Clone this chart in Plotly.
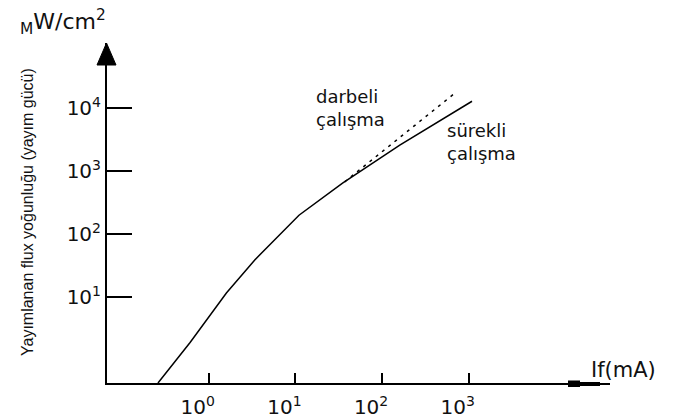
import plotly.graph_objects as go

# ---- data ----
if_continuous = [0.26, 0.61, 1.6, 3.4, 11, 35, 160, 1090]      # mA
p_continuous = [0.43, 1.9, 11.6, 39, 200, 650, 2600, 13000]     # mW/cm2
if_pulsed = [37, 710]
p_pulsed = [680, 18000]

x_tickvals = [1, 10, 100, 1000]
x_ticktext = ["10<sup>0</sup>", "10<sup>1</sup>", "10<sup>2</sup>", "10<sup>3</sup>"]
y_tickvals = [10, 100, 1000, 10000]
y_ticktext = ["10<sup>1</sup>", "10<sup>2</sup>", "10<sup>3</sup>", "10<sup>4</sup>"]

W, H = 686, 419
L, R, T, B = 107, 76, 43, 36
PW, PH = W - L - R, H - T - B


def px(x):
    return (x - L) / PW


def py(y):
    return (H - B - y) / PH


fig = go.Figure()
fig.add_trace(go.Scatter(x=if_continuous, y=p_continuous, mode="lines",
                         line=dict(color="black", width=1.5), showlegend=False,
                         hoverinfo="skip", cliponaxis=True))
fig.add_trace(go.Scatter(x=if_pulsed, y=p_pulsed, mode="lines",
                         line=dict(color="black", width=1.5, dash="3px,5px"),
                         showlegend=False, hoverinfo="skip"))

font_t = dict(family="DejaVu Sans", size=20, color="#111")

fig.update_layout(
    width=W, height=H,
    margin=dict(l=L, r=R, t=T, b=B, autoexpand=False),
    paper_bgcolor="white", plot_bgcolor="white",
    showlegend=False,
    xaxis=dict(type="log", range=[-1.173, 4.629], showgrid=False, zeroline=False,
               automargin=False,
               showline=True, linecolor="black", linewidth=2,
               ticks="inside", ticklen=10, tickwidth=2, tickcolor="black",
               ticklabelstandoff=5, ticklabelshift=-11,
               tickvals=x_tickvals, ticktext=x_ticktext, tickfont=font_t),
    yaxis=dict(type="log", range=[-0.366, 5.04], showgrid=False, zeroline=False,
               automargin=False,
               showline=True, linecolor="black", linewidth=2,
               ticks="inside", ticklen=25, tickwidth=1.5, tickcolor="black",
               tickvals=y_tickvals, ticktext=y_ticktext, tickfont=font_t),
)

# axis arrows
fig.add_shape(type="path", xref="paper", yref="paper",
              path=f"M {px(106.5)} {py(43)} L {px(97)} {py(65)} L {px(116)} {py(65)} Z",
              fillcolor="black", line=dict(color="black", width=1))
fig.add_shape(type="rect", xref="paper", yref="paper",
              x0=px(568), x1=px(580), y0=py(380.5), y1=py(387),
              fillcolor="black", line=dict(width=0))
fig.add_shape(type="rect", xref="paper", yref="paper",
              x0=px(580), x1=px(600), y0=py(382), y1=py(386),
              fillcolor="black", line=dict(width=0))

# texts
def label(text, x, y, size):
    fig.add_annotation(text=text, xref="paper", yref="paper", x=px(x), y=py(y),
                       xanchor="left", yanchor="middle", align="left",
                       showarrow=False,
                       font=dict(family="DejaVu Sans", size=size, color="#111"))


label("If(mA)", 589, 370, 21)
label("<sub>M</sub>W/cm<sup>2</sup>", 18, 22, 22)
label("darbeli<br>çalışma", 314, 108, 18)
label("sürekli<br>çalışma", 445, 142, 18)

fig.add_annotation(text="Yayımlanan flux yoğunluğu (yayım gücü)", xref="paper", yref="paper",
                   x=px(27), y=py(212), xanchor="center", yanchor="middle",
                   textangle=-90, showarrow=False,
                   font=dict(family="Liberation Sans", size=16, color="#111"))

fig.write_html("out.html")
